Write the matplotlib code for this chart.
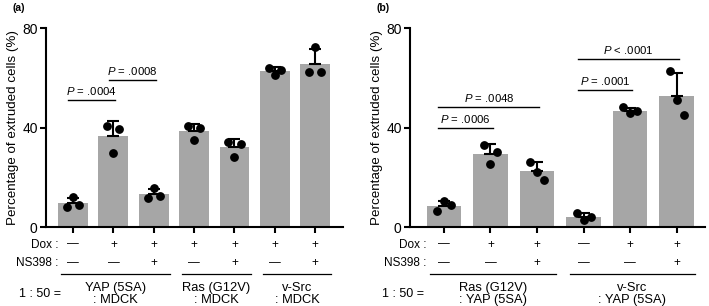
import numpy as np
import matplotlib
matplotlib.use("Agg")
import matplotlib.pyplot as plt

plt.rcParams['font.family'] = ['Liberation Sans', 'DejaVu Sans']
plt.rcParams['mathtext.fontset'] = 'custom'
plt.rcParams['mathtext.rm'] = 'Liberation Sans'
plt.rcParams['mathtext.it'] = 'Liberation Sans:italic'

# ---- data (each bar: three replicates, left / middle / right dot) ----
a_points = [[8.0, 12.0, 9.0],
            [40.7, 29.7, 39.3],
            [11.8, 15.7, 12.4],
            [40.6, 35.0, 39.9],
            [34.2, 28.2, 33.6],
            [64.1, 61.0, 63.0],
            [62.4, 72.4, 62.4]]
a_dox = ['—', '+', '+', '+', '+', '+', '+']
a_ns = ['—', '—', '+', '—', '+', '—', '+']
a_groups = [[0, 1, 2], [3, 4], [5, 6]]
a_group_labels = ['YAP (5SA)\n: MDCK', 'Ras (G12V)\n: MDCK', 'v-Src\n: MDCK']
a_pvals = [(0, 1, 51.3, 'P = .0004'), (1, 2, 59.0, 'P = .0008')]

b_points = [[6.6, 10.4, 8.8],
            [32.9, 25.3, 30.2],
            [26.2, 22.2, 18.9],
            [5.7, 2.8, 4.1],
            [48.1, 45.9, 46.6],
            [62.6, 51.0, 45.0]]
b_dox = ['—', '+', '+', '—', '+', '+']
b_ns = ['—', '—', '+', '—', '—', '+']
b_groups = [[0, 1, 2], [3, 4, 5]]
b_group_labels = ['Ras (G12V)\n: YAP (5SA)', 'v-Src\n: YAP (5SA)']
b_pvals = [(0, 1, 39.9, 'P = .0006'), (0, 2, 48.3, 'P = .0048'),
           (3, 4, 55.0, 'P = .0001'), (3, 5, 67.7, 'P < .0001')]

bar_color = '#a6a6a6'


def draw_panel(ax, points, dox, ns, groups, group_labels, pvals, xlim):
    pts = np.array(points)
    x = np.arange(len(pts))
    means = pts.mean(axis=1)
    sds = pts.std(axis=1, ddof=1)

    ax.bar(x, means, width=0.74, color=bar_color, zorder=1)
    ax.errorbar(x, means, yerr=[np.zeros(len(x)), sds], fmt='none', ecolor='black',
                elinewidth=1.5, capsize=4.5, capthick=1.5, zorder=2)
    offs = [-0.15, 0.0, 0.15]
    for i, row in enumerate(pts):
        ax.plot(x[i] + np.array(offs), row, 'o', color='black', ms=5.3,
                zorder=3, clip_on=False)

    for i1, i2, y, txt in pvals:
        ax.plot([x[i1] - 0.12, x[i2] + 0.05], [y, y], color='black', lw=1)
        label = txt.replace('P', r'$\it{P}$', 1)
        ax.text((x[i1] - 0.12 + x[i2] + 0.05) / 2, y + 1.2, label,
                ha='center', va='bottom', fontsize=8.2)

    ax.set_xlim(*xlim)
    ax.set_ylim(0, 80)
    ax.set_yticks([0, 40, 80])
    ax.set_xticks(x)
    ax.set_xticklabels([])
    ax.tick_params(axis='y', direction='out', length=4, width=1.5, labelsize=10, pad=2)
    ax.tick_params(axis='x', direction='out', length=4, width=1.5)
    for s in ['top', 'right']:
        ax.spines[s].set_visible(False)
    for s in ['left', 'bottom']:
        ax.spines[s].set_linewidth(1.5)
    ax.set_ylabel('Percentage of extruded cells (%)', fontsize=9.6, labelpad=2)

    tr = ax.get_xaxis_transform()
    for i in x:
        ax.text(i, -0.088, dox[i], transform=tr, ha='center', va='center', fontsize=8.5)
        ax.text(i, -0.181, ns[i], transform=tr, ha='center', va='center', fontsize=8.5)
    ax.text(-0.37, -0.088, 'Dox :', transform=tr, ha='right', va='center', fontsize=8.5)
    ax.text(-0.37, -0.181, 'NS398 :', transform=tr, ha='right', va='center', fontsize=8.5)
    ax.text(xlim[0] - 0.15, -0.337, '1 : 50 =', transform=tr, ha='center', va='center',
            fontsize=9)
    for g, lab in zip(groups, group_labels):
        ax.plot([g[0] - 0.3, g[-1] + 0.4], [-0.234, -0.234], transform=tr,
                color='black', lw=0.9, clip_on=False)
        ax.text((g[0] + g[-1]) / 2 + 0.05, -0.337, lab, transform=tr, ha='center',
                va='center', fontsize=9.3, linespacing=1.0)


fig = plt.figure(figsize=(7.09, 3.06), dpi=100)
ax_a = fig.add_axes([46 / 709, 0.258, 297 / 709, 0.650])
ax_b = fig.add_axes([410 / 709, 0.258, 295 / 709, 0.650])

draw_panel(ax_a, a_points, a_dox, a_ns, a_groups, a_group_labels, a_pvals,
           (-0.67, 6.69))
draw_panel(ax_b, b_points, b_dox, b_ns, b_groups, b_group_labels, b_pvals,
           (-0.73, 5.61))

fig.text(12 / 709, 1 - 8 / 306, '(a)', fontsize=7.5, fontweight='bold', va='center')
fig.text(377 / 709, 1 - 8 / 306, '(b)', fontsize=7.5, fontweight='bold', va='center')

fig.savefig('out.png', dpi=100)
